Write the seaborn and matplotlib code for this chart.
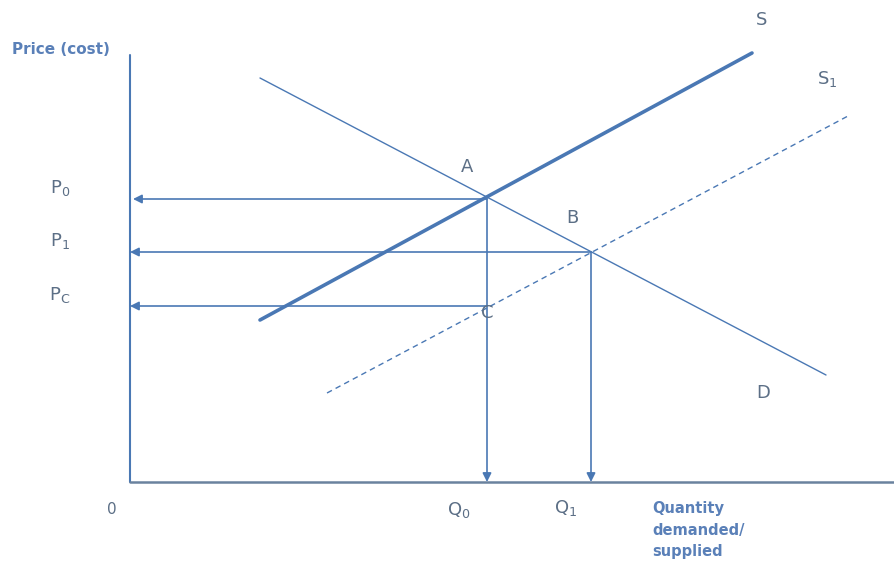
import seaborn as sns
import matplotlib.pyplot as plt
import pandas as pd

# curve end points (quantity, price), origin at the axes corner
supply_q = [130, 622]
supply_p = [162, 429]
demand_q = [130, 696]
demand_p = [404, 107]
supply1_q = [197, 718]
supply1_p = [89, 366]

# equilibrium values
q_values = {"Q0": 357, "Q1": 461}
p_values = {"P0": 283, "P1": 230, "PC": 176}

line_blue = "#4a78b4"
label_blue = "#5a80b8"
letter_grey = "#5c6f86"

sns.set_style("white")

fig = plt.figure(figsize=(8.94, 5.65), dpi=100)
ax = fig.add_axes([0, 0, 1, 1])
ax.set_xlim(-130, 764)
ax.set_ylim(-83, 482)
ax.axis("off")

curves = pd.concat([
    pd.DataFrame({"q": supply_q, "p": supply_p, "curve": "S"}),
    pd.DataFrame({"q": demand_q, "p": demand_p, "curve": "D"}),
    pd.DataFrame({"q": supply1_q, "p": supply1_p, "curve": "S1"}),
])

sns.lineplot(data=curves[curves.curve == "S"], x="q", y="p", color=line_blue,
             lw=2.6, ax=ax, legend=False, sort=False)
sns.lineplot(data=curves[curves.curve == "D"], x="q", y="p", color=line_blue,
             lw=1.0, ax=ax, legend=False, sort=False)
sns.lineplot(data=curves[curves.curve == "S1"], x="q", y="p", color=line_blue,
             lw=1.0, ls=(0, (4, 3)), ax=ax, legend=False, sort=False)

# axes lines
ax.plot([0, 0], [0, 427], color=line_blue, lw=1.5)
ax.plot([0, 764], [0, 0], color="#6a829e", lw=1.8)

arrow = dict(arrowstyle="-|>", color=line_blue, lw=1.2, mutation_scale=13,
             shrinkA=0, shrinkB=0)

# horizontal arrows to the price axis
ax.annotate("", xy=(3, p_values["P0"]), xytext=(q_values["Q0"], p_values["P0"]), arrowprops=arrow)
ax.annotate("", xy=(0, p_values["P1"]), xytext=(q_values["Q1"], p_values["P1"]), arrowprops=arrow)
ax.annotate("", xy=(0, p_values["PC"]), xytext=(q_values["Q0"], p_values["PC"]), arrowprops=arrow)

# vertical arrows to the quantity axis
ax.annotate("", xy=(q_values["Q0"], 0), xytext=(q_values["Q0"], p_values["P0"]), arrowprops=arrow)
ax.annotate("", xy=(q_values["Q1"], 0), xytext=(q_values["Q1"], p_values["P1"]), arrowprops=arrow)

txt = dict(color=letter_grey, fontsize=13, ha="center", va="center")

ax.text(-70, p_values["P0"] + 11, r"P$_0$", **txt)
ax.text(-70, p_values["P1"] + 11, r"P$_1$", **txt)
ax.text(-70, p_values["PC"] + 11, r"P$_\mathrm{C}$", **txt)

ax.text(q_values["Q0"] - 28, -28, r"Q$_0$", **txt)
ax.text(q_values["Q1"] - 25, -26, r"Q$_1$", **txt)
ax.text(-18, -28, "0", color=letter_grey, fontsize=11, ha="center", va="center")

ax.text(337, 315, "A", **txt)
ax.text(442, 264, "B", **txt)
ax.text(357, 169, "C", **txt)
ax.text(632, 462, "S", **txt)
ax.text(697, 403, r"S$_1$", **txt)
ax.text(633, 89, "D", **txt)

ax.text(-118, 432, "Price (cost)", color=label_blue, fontsize=11,
        fontweight="bold", ha="left", va="center")
ax.text(522, -19, "Quantity\ndemanded/\nsupplied", color=label_blue, fontsize=10.5,
        fontweight="bold", ha="left", va="top", linespacing=1.55)

fig.savefig("out.png", dpi=100)
